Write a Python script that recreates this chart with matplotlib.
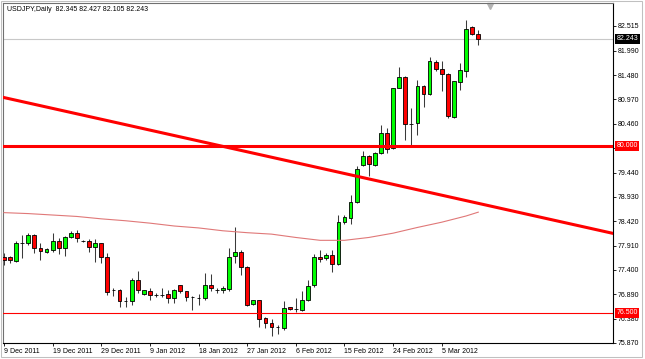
import matplotlib.pyplot as plt
import matplotlib.transforms as mtransforms
from matplotlib.patches import Rectangle

plt.rcParams['font.family'] = ['Liberation Sans', 'DejaVu Sans']

# daily candles, oldest first
opens = [77.68, 77.68, 77.59, 77.97, 77.96, 78.13, 77.86, 77.78, 77.82, 78.01,
         77.86, 78.08, 78.18, 78.01, 78.01, 77.89, 77.96, 77.68, 76.97, 76.97,
         76.75, 76.74, 77.18, 76.90, 76.95, 76.88, 76.88, 76.89, 76.81, 77.08,
         76.95, 76.83, 76.81, 76.81, 77.09, 76.97, 76.97, 77.00, 77.69, 77.78,
         77.47, 76.68, 76.76, 76.39, 76.28, 76.21, 76.18, 76.62, 76.58, 76.56,
         76.77, 77.09, 77.67, 77.65, 77.72, 77.52, 78.41, 78.48, 78.82, 79.59,
         79.79, 79.60, 79.85, 80.27, 79.95, 81.22, 81.45, 80.46, 80.48, 81.26,
         81.08, 81.75, 81.61, 81.51, 80.61, 81.34, 81.57, 82.49, 82.345]
highs = [77.76, 77.69, 78.01, 78.13, 78.17, 78.15, 77.97, 77.86, 78.18, 78.07,
         78.11, 78.22, 78.24, 78.03, 78.04, 78.04, 77.97, 77.75, 77.02, 77.00,
         76.84, 77.23, 77.37, 76.98, 77.02, 76.91, 77.02, 76.98, 77.00, 77.09,
         76.96, 76.86, 76.90, 77.34, 77.32, 77.02, 77.07, 77.86, 78.30, 77.81,
         77.48, 76.77, 76.77, 76.42, 76.37, 76.25, 76.75, 76.62, 76.81, 76.95,
         77.19, 77.74, 77.81, 77.75, 77.81, 78.55, 78.55, 78.97, 79.57, 79.90,
         79.81, 79.88, 80.44, 80.37, 81.21, 81.66, 81.47, 80.79, 81.38, 81.28,
         81.86, 81.80, 81.77, 81.52, 81.35, 81.73, 82.64, 82.50, 82.427]
lows = [77.51, 77.55, 77.57, 77.65, 77.92, 77.75, 77.61, 77.75, 77.78, 77.73,
        77.69, 78.07, 77.99, 77.99, 77.78, 77.57, 77.55, 76.88, 76.86, 76.62,
        76.62, 76.67, 76.92, 76.88, 76.76, 76.83, 76.83, 76.70, 76.70, 76.91,
        76.75, 76.56, 76.67, 76.77, 76.95, 76.91, 76.91, 76.95, 77.55, 77.30,
        76.65, 76.67, 76.21, 76.18, 76.02, 76.06, 76.14, 76.56, 76.51, 76.53,
        76.74, 77.05, 77.57, 77.61, 77.35, 77.51, 78.37, 78.37, 78.81, 79.57,
        79.36, 79.57, 79.83, 79.85, 79.94, 81.21, 80.13, 80.02, 80.23, 80.82,
        81.07, 81.56, 81.14, 80.58, 80.58, 81.16, 81.44, 82.33, 82.105]
closes = [77.61, 77.61, 77.96, 77.97, 78.13, 77.86, 77.80, 77.83, 78.01, 77.86,
          78.08, 78.18, 78.07, 78.01, 77.89, 77.96, 77.68, 76.93, 76.97, 76.74,
          76.75, 77.18, 76.97, 76.97, 76.88, 76.88, 76.88, 76.81, 76.97, 76.95,
          76.84, 76.83, 76.81, 77.09, 77.02, 76.97, 77.02, 77.68, 77.77, 77.47,
          76.67, 76.76, 76.37, 76.28, 76.21, 76.21, 76.60, 76.58, 76.58, 76.77,
          77.07, 77.67, 77.63, 77.72, 77.52, 78.41, 78.50, 78.82, 79.52, 79.79,
          79.62, 79.85, 80.27, 79.94, 81.20, 81.45, 80.46, 80.46, 81.26, 81.08,
          81.77, 81.61, 81.51, 80.63, 81.35, 81.58, 82.45, 82.34, 82.243]

# moving average, read every 4 bars
ma_x = [0, 4, 8, 12, 16, 20, 24, 28, 32, 36, 40, 44, 48, 52, 56, 60, 64, 68, 72, 76, 78]
ma_y = [78.60, 78.58, 78.55, 78.52, 78.47, 78.43, 78.38, 78.32, 78.28, 78.22, 78.18,
        78.15, 78.08, 78.02, 78.02, 78.08, 78.17, 78.29, 78.40, 78.53, 78.61]

# trend line anchors (bar index, price)
trend_x = [0, 100]
trend_y = [81.01, 78.17]

level_hi = 80.000
level_lo = 76.500
last_price = 82.243

date_pos = [0, 8, 16, 24, 32, 40, 48, 56, 64, 72]
date_labels = ['9 Dec 2011', '19 Dec 2011', '29 Dec 2011', '9 Jan 2012', '18 Jan 2012',
               '27 Jan 2012', '6 Feb 2012', '15 Feb 2012', '24 Feb 2012', '5 Mar 2012']
price_ticks = [75.870, 76.380, 76.890, 77.400, 77.910, 78.420, 78.930,
               79.440, 79.950, 80.460, 80.970, 81.480, 81.990, 82.515]
# 79.950 sits under the 80.000 box, so its label is left blank
price_labels = ['' if p == 79.950 else '%.3f' % p for p in price_ticks]

title = 'USDJPY,Daily  82.345 82.427 82.105 82.243'

fig = plt.figure(figsize=(6.45, 3.59), dpi=100)
ax = fig.add_axes([3 / 645, 16 / 359, 610 / 645, 340 / 359])

idx = list(range(len(opens)))
bottoms = [min(o, c) for o, c in zip(opens, closes)]
heights = [abs(c - o) for o, c in zip(opens, closes)]
colors = ['#00ff00' if c > o else '#ff0000' for o, c in zip(opens, closes)]

# wicks then bodies
ax.vlines(idx, lows, highs, color='#3a3a3a', lw=0.75, zorder=2)
ax.bar(idx, heights, width=0.62, bottom=bottoms, color=colors,
       edgecolor='black', linewidth=0.6, zorder=3)

# indicator + drawn objects
ax.axhline(last_price, color='#c8c8c8', lw=0.8, zorder=1)
ax.plot(ma_x, ma_y, color='#e07878', lw=0.8, zorder=4)
ax.axline((trend_x[0], trend_y[0]), (trend_x[1], trend_y[1]), color='#ff0000', lw=2.2, zorder=5)
ax.axhline(level_hi, color='#ff0000', lw=2.2, zorder=5)
ax.axhline(level_lo, color='#ff0000', lw=0.8, zorder=5)

ax.set_xlim(-0.16, 100.16)
ax.set_ylim(75.87, 82.99)

ax.yaxis.tick_right()
ax.set_yticks(price_ticks)
ax.set_yticklabels(price_labels)
ax.set_xticks(date_pos)
ax.set_xticklabels(date_labels, ha='left')
ax.tick_params(axis='y', direction='out', length=2, width=0.6, pad=1.2, labelsize=5)
ax.tick_params(axis='x', direction='out', length=2.2, width=0.6, pad=1.5, labelsize=5)

for side in ['left', 'top']:
    ax.spines[side].set_color('#707070')
    ax.spines[side].set_linewidth(0.8)
for side in ['right', 'bottom']:
    ax.spines[side].set_color('black')
    ax.spines[side].set_linewidth(0.8)

# price boxes on the scale
trans = mtransforms.blended_transform_factory(ax.transAxes, ax.transData)
for price, bg in [(last_price, 'black'), (level_hi, '#ff0000'), (level_lo, '#ff0000')]:
    ax.text(1.006, price, '%.3f' % price, transform=trans, ha='left', va='center',
            fontsize=5, color='white', clip_on=False, zorder=10,
            bbox=dict(boxstyle='square,pad=0.2', fc=bg, ec='none'))

# chart shift marker
tri = mtransforms.blended_transform_factory(ax.transData, ax.transAxes)
ax.plot([80], [0.992], marker='v', ms=4, color='#b4b4b4', transform=tri, clip_on=False)

fig.text(7 / 645, 1 - 9.5 / 359, title, fontsize=5, va='center', ha='left')

# window frame
fig.patches.append(Rectangle((0.5 / 645, 2.5 / 359), 641 / 645, 356 / 359,
                             transform=fig.transFigure, fill=False, ec='#c0c0c0', lw=0.75))

fig.savefig('out.png', dpi=100)
